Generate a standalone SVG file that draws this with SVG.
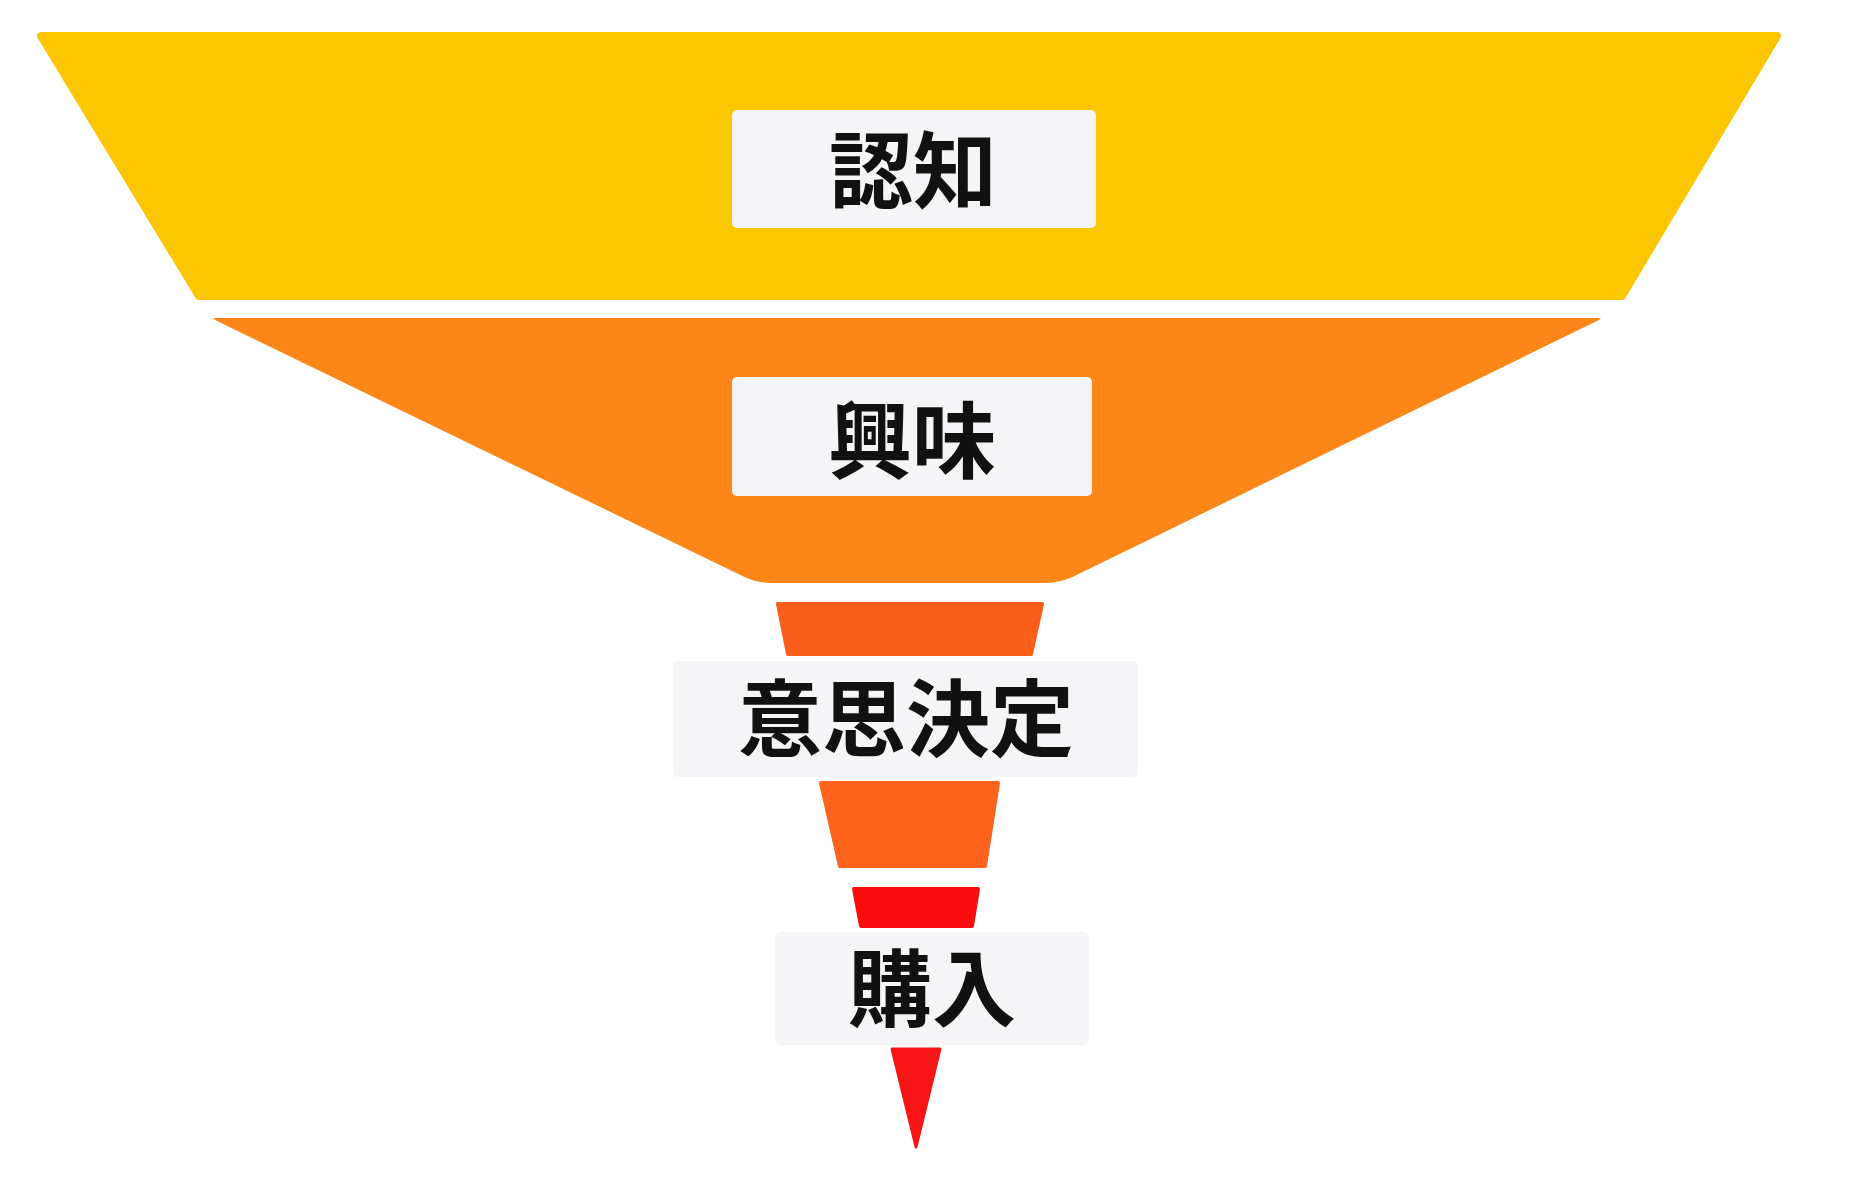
<svg xmlns="http://www.w3.org/2000/svg" width="1864" height="1200" viewBox="0 0 1864 1200">
  <style>
    .seg { stroke-linejoin: round; }
    .box { fill: #f5f5f7; }
    .lbl { font-family: "Noto Sans CJK JP", "Noto Sans CJK SC", sans-serif; font-weight: 700; font-size: 84px; fill: #111111; text-anchor: middle; dominant-baseline: central; }
  </style>
  <rect x="0" y="0" width="1864" height="1200" fill="#ffffff"/>
  <g id="connectors"></g>
  <g id="stage-awareness">
    <path class="seg" d="M41,36 L1777,36 L1622,296 L199,296 Z" fill="#fcc602" stroke="#fcc602" stroke-width="8"/>
    <rect class="box" x="732" y="110" width="364" height="118" rx="5"/>
    <text class="lbl" x="913" y="165">認知</text>
  </g>
  <g id="stage-interest">
    <path d="M216,318 L1598,318 Q1603,318 1599,320 L1073.5,576.5 Q1060,583 1045,583 L772,583 Q757,583 743.5,576.5 L215,320 Q211,318 216,318 Z" fill="#fc8718"/>
    <rect class="box" x="732" y="377" width="360" height="119" rx="5"/>
    <text class="lbl" x="912" y="435">興味</text>
  </g>
  <g id="stage-decision">
    <path class="seg" d="M778,604 L1042,604 L1031,654 L788,654 Z" fill="#fc5e1c" stroke="#fc5e1c" stroke-width="4"/>
    <rect class="box" x="673" y="661" width="465" height="116" rx="5" fill="#f3f3f4"/>
    <text class="lbl" x="906" y="713">意思決定</text>
    <path class="seg" d="M821,783 L998,783 L985,866 L840,866 Z" fill="#fd631d" stroke="#fd631d" stroke-width="4"/>
  </g>
  <g id="stage-purchase">
    <path class="seg" d="M854,889 L978,889 L972,926 L861,926 Z" fill="#fc0c0c" stroke="#fc0c0c" stroke-width="4"/>
    <rect class="box" x="775" y="932" width="314" height="113" rx="6" fill="#f3f3f4"/>
    <text class="lbl" x="932" y="983">購入</text>
    <path class="seg" d="M892,1049 L940,1049 L916,1147 Z" fill="#f81414" stroke="#f81414" stroke-width="3"/>
  </g>
</svg>
